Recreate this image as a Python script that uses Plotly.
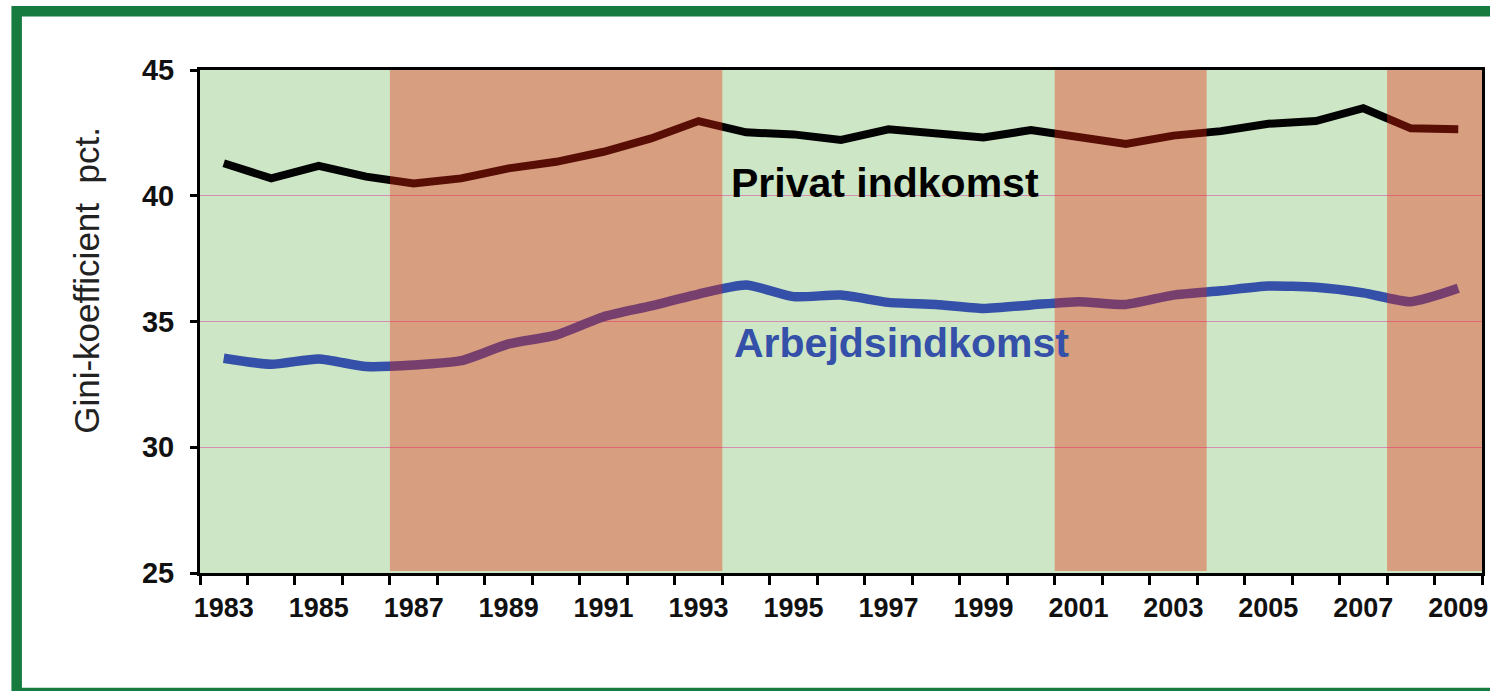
import plotly.graph_objects as go

years = list(range(1983, 2010))
privat = [41.29, 40.69, 41.19, 40.76, 40.49, 40.69, 41.09, 41.35, 41.75, 42.28,
          42.97, 42.52, 42.44, 42.22, 42.64, 42.48, 42.32, 42.61, 42.31, 42.06,
          42.39, 42.57, 42.86, 42.97, 43.48, 42.68, 42.64]
arbejds = [33.54, 33.30, 33.51, 33.21, 33.27, 33.44, 34.11, 34.46, 35.19, 35.62,
           36.09, 36.45, 35.99, 36.05, 35.76, 35.68, 35.52, 35.66, 35.79, 35.68,
           36.05, 36.22, 36.41, 36.36, 36.14, 35.79, 36.32]
red_from = [1986.5, 2000.5, 2007.5]
red_to = [1993.5, 2003.7, 2009.5]
x_tick_years = list(range(1983, 2010, 2))
x_tick_labels = [str(y) for y in x_tick_years]
y_ticks = [25, 30, 35, 40, 45]

FONT = "Liberation Sans, Arial, sans-serif"

fig = go.Figure()
fig.add_trace(go.Scatter(x=years, y=privat, mode="lines",
                         line=dict(color="#030303", width=8),
                         hoverinfo="skip", showlegend=False))
fig.add_trace(go.Scatter(x=years, y=arbejds, mode="lines",
                         line=dict(color="#3450A8", width=9.5, shape="spline", smoothing=0.6),
                         hoverinfo="skip", showlegend=False))

for a, b in zip(red_from, red_to):
    fig.add_shape(type="rect", xref="x", yref="y", x0=a, x1=b, y0=25.08, y1=45.1,
                  fillcolor="rgb(235,35,10)", opacity=0.37, line_width=0, layer="above")

fig.add_annotation(x=1993.65, y=40.51, xref="x", yref="y", text="Privat indkomst",
                   showarrow=False, xanchor="left", yanchor="middle",
                   font=dict(family=FONT, size=41, color="#000000", weight="bold"))
fig.add_annotation(x=1993.7, y=34.15, xref="x", yref="y", text="Arbejdsindkomst",
                   showarrow=False, xanchor="left", yanchor="middle",
                   font=dict(family=FONT, size=41, color="#3450A8", weight="bold"))
fig.add_annotation(x=-0.0881, y=0.581, xref="paper", yref="paper",
                   text="Gini-koefficient  pct.", textangle=-90, showarrow=False,
                   xanchor="center", yanchor="middle",
                   font=dict(family=FONT, size=35, color="#222222"))

# green frame
fig.add_shape(type="rect", xref="paper", yref="paper", x0=-0.143, x1=1.025,
              y0=-0.2386, y1=1.117, line=dict(color="#177A3F", width=10.5),
              fillcolor="rgba(0,0,0,0)", layer="below")

fig.update_xaxes(range=[1982.5, 2009.5], tickvals=x_tick_years, ticktext=x_tick_labels,
                 ticks="", ticklabelstandoff=9, showgrid=False, zeroline=False,
                 automargin=False,
                 showline=True, linecolor="black", linewidth=3, mirror=True,
                 tickfont=dict(family=FONT, size=27, color="#111111", weight="bold"),
                 minor=dict(ticks="outside", tick0=1982.5, dtick=1, ticklen=9,
                            tickwidth=2.5, tickcolor="black", showgrid=False))
fig.update_yaxes(range=[25, 45], tickvals=y_ticks, ticks="outside", ticklen=7,
                 tickwidth=2.5, tickcolor="black", ticklabelstandoff=10,
                 automargin=False,
                 showgrid=True, gridcolor="rgb(215,140,178)", gridwidth=1, zeroline=False,
                 showline=True, linecolor="black", linewidth=3, mirror=True,
                 tickfont=dict(family=FONT, size=29, color="#111111", weight="bold"))

fig.update_layout(width=1490, height=691, margin=dict(l=200, r=8, t=70, b=118),
                  paper_bgcolor="white", plot_bgcolor="#CDE6C5", showlegend=False)

fig.write_html("out.html", config={"displayModeBar": False},
               post_script="document.body.style.margin='0';document.body.style.overflow='hidden';")
